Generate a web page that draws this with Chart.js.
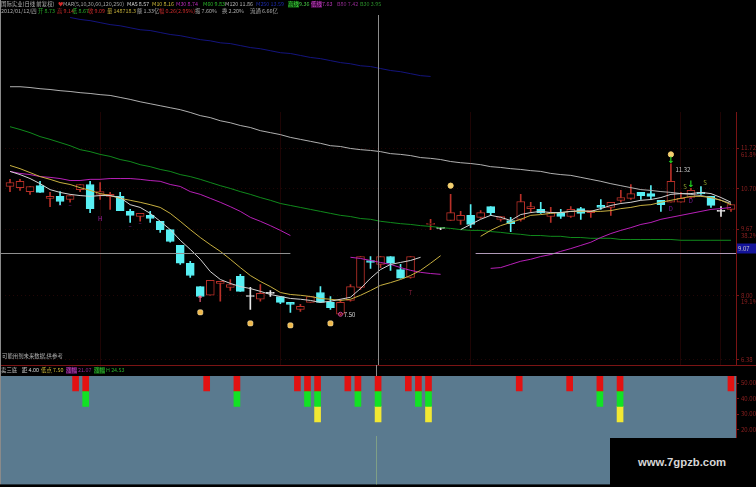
<!DOCTYPE html>
<html><head><meta charset="utf-8">
<style>
html,body{margin:0;padding:0;background:#000;width:756px;height:487px;overflow:hidden}
#top{position:absolute;left:0;top:0;width:756px;height:365px}
#bot{position:absolute;left:0;top:365px;width:756px;height:125px}
.t{position:absolute;white-space:nowrap;font:5.4px/7px "Noto Sans CJK SC","Noto Sans",sans-serif;z-index:3;opacity:.88}
#mark{position:absolute;left:610px;top:438px;width:146px;height:49px;background:#000;z-index:4}
#mark span{position:absolute;left:28px;top:18px;font:bold 11.3px "Liberation Sans",sans-serif;color:#d6d6d6;white-space:nowrap}
</style>
<script src="https://cdn.jsdelivr.net/npm/chart.js@4"></script>
</head><body>
<div id="top"><canvas id="c1" width="756" height="365"></canvas></div>
<div id="bot"><canvas id="c2" width="756" height="125"></canvas></div>
<div id="texts"></div>
<div id="mark"><span>www.7gpzb.com</span></div>
<script>
const openP=[10.75,10.72,10.62,10.77,10.45,10.50,10.42,10.67,10.80,10.55,10.50,10.50,10.12,9.99,10.02,9.87,9.66,9.26,8.81,8.22,8.00,8.30,8.20,8.48,7.97,7.90,8.05,7.97,7.82,7.64,7.82,8.07,7.82,7.52,7.87,8.20,8.88,8.78,8.98,8.65,8.45,null,9.79,9.69,9.89,9.89,10.02,9.97,10.24,9.92,9.89,9.92,10.19,10.17,9.99,10.09,9.99,10.19,10.09,10.27,10.22,10.40,10.45,10.60,10.57,10.40,10.35,10.35,10.47,10.60,10.50,10.12,10.17];
const closeP=[10.85,10.88,10.75,10.60,10.50,10.37,10.52,10.80,10.19,10.62,10.55,10.14,10.02,10.07,9.94,9.66,9.36,8.81,8.50,7.97,8.38,8.35,8.27,8.10,7.97,8.05,8.05,7.82,7.77,7.72,7.97,7.82,7.69,7.82,8.22,8.98,8.83,8.98,8.81,8.43,8.98,null,9.81,9.69,10.09,10.02,9.79,10.09,10.09,9.99,9.81,10.37,10.24,10.09,10.09,9.99,10.17,10.07,10.14,10.22,10.35,10.47,10.57,10.52,10.50,10.29,10.88,10.45,10.65,10.57,10.27,10.12,10.29];
const highP=[10.93,10.93,10.75,10.88,10.60,10.62,10.52,10.80,10.88,10.85,10.60,10.60,10.17,10.07,10.12,9.87,9.66,9.26,8.86,8.22,8.38,8.35,8.40,8.53,8.20,8.27,8.12,7.97,7.82,7.77,7.97,8.22,7.97,7.90,8.27,8.98,8.98,8.98,8.98,8.78,8.98,null,9.92,9.71,10.55,10.12,10.29,10.14,10.24,9.99,9.97,10.55,10.35,10.35,10.22,10.17,10.24,10.22,10.14,10.42,10.35,10.65,10.80,10.60,10.77,10.40,11.32,10.60,10.70,10.75,10.50,10.24,10.29];
const lowP=[10.62,10.65,10.55,10.60,10.24,10.29,10.35,10.62,10.09,10.42,10.17,10.14,9.84,9.87,9.84,9.59,9.34,8.78,8.45,7.95,8.00,7.85,8.12,8.10,7.64,7.85,7.97,7.79,7.57,7.59,7.82,7.82,7.64,7.50,7.85,8.15,8.68,8.70,8.63,8.43,8.43,null,9.66,9.66,9.89,9.79,9.71,9.94,10.02,9.87,9.61,9.87,10.09,10.07,9.84,9.94,9.97,9.92,9.97,10.17,10.02,10.35,10.42,10.42,10.42,10.12,10.35,10.35,10.45,10.55,10.22,9.99,10.12];
const ma5=[11.13,11.05,10.95,10.82,10.67,10.60,10.55,10.52,10.50,10.52,10.52,10.47,10.29,10.22,10.07,9.87,9.66,9.39,9.16,8.91,8.60,8.40,8.30,8.22,8.17,8.10,8.02,7.97,7.92,7.90,7.87,7.82,7.85,7.90,7.95,8.17,8.43,8.65,8.78,8.83,8.88,8.96,null,null,null,9.66,9.79,9.92,10.02,9.97,9.89,10.04,10.09,10.12,10.09,10.09,10.12,10.14,10.12,10.19,10.27,10.32,10.35,10.40,10.42,10.47,10.55,10.57,10.57,10.60,10.57,10.47,10.35];
const ma10=[11.28,11.20,11.10,11.00,10.93,10.85,10.80,10.72,10.65,10.57,10.52,10.45,10.40,10.35,10.29,10.22,10.07,9.87,9.66,9.46,9.28,9.11,8.91,8.70,8.50,8.35,8.22,8.07,8.02,8.00,7.97,7.92,7.90,7.87,7.90,8.00,8.12,8.25,8.32,8.40,8.50,8.63,8.81,9.00,null,null,null,9.49,9.64,9.76,9.84,9.92,10.02,10.04,10.07,10.09,10.12,10.12,10.12,10.12,10.14,10.19,10.22,10.27,10.29,10.35,10.40,10.45,10.50,10.50,10.47,10.40,10.29];
const ma30=[11.13,11.08,11.05,11.00,10.98,10.95,10.90,10.90,10.93,10.93,10.95,10.95,10.95,10.93,10.90,10.88,10.80,10.75,10.62,10.55,10.45,10.35,10.24,10.12,9.97,9.87,9.76,9.64,9.51,null,null,null,null,null,8.96,8.93,8.88,8.83,8.78,8.70,8.63,8.58,8.55,8.53,null,null,null,null,8.68,8.70,8.78,8.86,8.91,8.98,9.03,9.11,9.18,9.26,9.34,9.46,9.56,9.64,9.71,9.79,9.84,9.92,9.97,10.02,10.07,10.12,10.17,10.19,10.22];
const ma60=[12.26,12.19,12.11,12.01,11.94,11.86,11.78,11.68,11.63,11.56,11.51,11.43,11.38,11.30,11.25,11.18,11.13,11.05,11.00,10.93,10.85,10.77,10.70,10.62,10.55,10.47,10.40,10.32,10.27,10.22,10.17,10.12,10.07,10.02,9.99,9.94,9.92,9.87,9.84,9.81,9.79,9.76,9.74,9.71,9.69,9.66,9.64,9.64,9.61,9.59,9.56,9.54,9.51,9.51,9.49,9.49,9.46,9.46,9.44,9.44,9.44,9.41,9.41,9.41,9.41,9.41,9.41,9.39,9.39,9.39,9.39,9.39,9.39];
const ma120=[13.27,13.27,13.25,13.22,13.20,13.17,13.15,13.12,13.10,13.07,13.05,13.00,12.95,12.89,12.84,12.79,12.74,12.69,12.62,12.54,12.49,12.41,12.36,12.29,12.24,12.16,12.11,12.06,11.99,11.94,11.89,11.84,11.78,11.76,11.71,11.68,11.66,11.63,11.58,11.56,11.53,11.48,11.46,11.43,11.38,11.35,11.33,11.30,11.25,11.23,11.20,11.18,11.15,11.13,11.08,11.05,11.03,10.98,10.93,10.88,10.82,10.77,10.72,10.67,10.65,10.62,10.60,10.57,10.55,10.52,10.47,10.40,10.32];
const ma250=[null,null,null,null,null,null,15.02,14.97,14.94,14.89,14.84,14.81,14.76,14.71,14.69,14.64,14.59,14.56,14.51,14.46,14.43,14.38,14.36,14.31,14.26,14.23,14.18,14.13,14.11,14.06,14.01,13.98,13.93,13.88,13.85,13.80,13.78,13.73,13.68,13.65,13.60,13.55,13.53,null,null,null,null,null,null,null,null,null,null,null,null,null,null,null,null,null,null,null,null,null,null,null,null,null,null,null,null,null,null];
const handDays=[19,24,28,32], handPrices=[7.57,7.29,7.24,7.29];
const ballDays=[44,66], ballPrices=[10.77,11.56];
const priceTicks=[11.72,10.70,9.67,8.00,6.38];
const priceTickPct={11.72:"61.8%",9.67:"38.2%",8.00:"19.1%"};
const lastPrice=9.07;
const indicatorTicks=[50,40,30,20];
const redDays=[7,8,20,23,29,30,31,34,35,37,40,41,42,51,56,59,61,72];
const greenDays=[8,23,30,31,35,37,41,42,59,61];
const yellowDays=[31,37,42,61];
const gridDays=[9,27,46,67,71];
const markDays=[19,66,68,67,69,66,33,9,40,66,68,5,6,12,13];
const markPrices=[7.90,11.40,10.80,10.75,10.85,11.18,7.52,9.94,8.07,10.19,10.40,10.29,10.29,9.76,9.84];
const markTexts=["↑","↓","↓","S","S","11.32","7.50","H","T","D","D","–","–","–","–"];
const markColors=["#ff6a8a","#22dd22","#22dd22","#8f9f2c","#8f9f2c","#c8c8c8","#d8d8d8","#a024a8","#8a2040","#7a1a9a","#7a1a9a","#8a2098","#8a2098","#8a2098","#8a2098"];
const days=openP.map((_,i)=>String(i+1));

const header=[
 ["国际实业(日线 前复权)",1,4,"#c8c8c8"],["♥",58,4,"#f03030"],["MAR(5,10,30,60,120,250)",63,4,"#b8b8b8"],
 ["MA5 8.57",127,4,"#e8e8e8"],["M10 8.16",152,4,"#e8d040"],["M30 8.74",176,4,"#d030d0"],["M60 9.83",203,4,"#30d030"],
 ["M120 11.86",225,4,"#c8c8c8"],["M250 13.59",256,4,"#2030c0"],["高线",288,4,"#50ff50","#0a4a0a"],["9.36",299,4,"#50e050"],
 ["低线",311,4,"#e050e0","#4a0a4a"],["7.63",322,4,"#d040d0"],["B80 7.42",337,4,"#a030a0"],["B30 3.95",360,4,"#30a030"],
 ["2012/01/12/四",1,11.5,"#c0c0c0"],["开 8.73",38,11.5,"#30c030"],["高 9.14",57,11.5,"#e03030"],["低 8.67",72,11.5,"#30c030"],
 ["收 9.09",88,11.5,"#e03030"],["量 148718.3",107,11.5,"#d8c040"],["额 1.33亿",137,11.5,"#c0c0c0"],["幅 0.26(2.95%)",159,11.5,"#e03030"],
 ["振 7.60%",195,11.5,"#c0c0c0"],["换 2.20%",222,11.5,"#c0c0c0"],["流通 6.66亿",250,11.5,"#c0c0c0"],
 ["可能用到未来数据,供参考",2,356,"#c8c8c8"],
 ["卖三底",1,370,"#d8d8d8"],["距 4.00",22,370,"#e8e8e8"],["低点 7.50",41,370,"#e8d040"],
 ["涨幅",66,370,"#e060e0","#500a50"],["21.07",78,370,"#b030b0"],["涨幅",94,370,"#40e040","#0a4a0a"],["H 24.53",106,370,"#30c030"]
];
const box=document.getElementById('texts');
header.forEach(h=>{const s=document.createElement('span');s.className='t';s.textContent=h[0];s.style.left=h[1]+'px';s.style.top=(h[2]-3.5)+'px';s.style.color=h[3];if(h[4])s.style.background=h[4];box.appendChild(s);});

const FONT='"Noto Sans CJK SC","Noto Sans",sans-serif';
const RED='#b83028',CYAN='#58f0f4',WHITE='#e8e8e8',AXIS='#7a1414',TICK='#8c2020';
const candleColor=(o,c)=>o==null?'#000':(c>o?RED:(c<o?CYAN:WHITE));
const wick=days.map((_,i)=>lowP[i]==null?null:[lowP[i],highP[i]]);
const body=days.map((_,i)=>openP[i]==null?null:[openP[i],closeP[i]]);
const strokes=days.map((_,i)=>candleColor(openP[i],closeP[i]));
const fills=days.map((_,i)=>closeP[i]>openP[i]?'#000':strokes[i]);
const sparse=(idx,vals)=>days.map((_,i)=>{const k=idx.indexOf(i);return k<0?null:vals[k];});
const lineDs=(data,color,order)=>({type:'line',data,borderColor:color,borderWidth:1,pointRadius:0,tension:0,spanGaps:false,order,fill:false});
const crossX=x=>Math.floor(x.getPixelForValue(37))-1.5;

const priceDecor={id:'priceDecor',
 beforeDatasetsDraw(ch){
  const {ctx,scales:{x}}=ch;
  ctx.save();ctx.lineWidth=1;ctx.strokeStyle='#1e0404';
  gridDays.forEach(d=>{const g=Math.floor(x.getPixelForValue(d))+.5;ctx.beginPath();ctx.moveTo(g,112);ctx.lineTo(g,365);ctx.stroke();});
  ctx.restore();
 },
 afterDatasetsDraw(ch){
  const {ctx,chartArea:a,scales:{x,y}}=ch;
  ctx.save();
  const ly=Math.round(y.getPixelForValue(lastPrice))+.5;
  ctx.lineWidth=1;
  ctx.strokeStyle='#8f8f8f';ctx.beginPath();ctx.moveTo(1,ly);ctx.lineTo(x.getPixelForValue(28),ly);ctx.stroke();
  ctx.strokeStyle='#b09ab8';ctx.beginPath();ctx.moveTo(x.getPixelForValue(46)+5,ly);ctx.lineTo(a.right,ly);ctx.stroke();
  const cx=crossX(x);
  ctx.strokeStyle='#8c8c8c';ctx.beginPath();ctx.moveTo(cx,15);ctx.lineTo(cx,365);ctx.stroke();
  ctx.strokeStyle='#8a8a8a';ctx.beginPath();ctx.moveTo(.5,0);ctx.lineTo(.5,365);ctx.stroke();
  ctx.strokeStyle=AXIS;ctx.beginPath();ctx.moveTo(a.right+.5,112);ctx.lineTo(a.right+.5,365);ctx.stroke();
  ctx.textAlign='center';ctx.textBaseline='middle';
  markTexts.forEach((t,k)=>{
    const long=t.length>1;
    const px=x.getPixelForValue(markDays[k])+(long?(t==="7.50"?9:12):(t==="S"?4:0));
    const py=y.getPixelForValue(markPrices[k]);
    ctx.fillStyle=markColors[k];
    ctx.font=(t==="↑"||t==="↓")?'bold 9px "DejaVu Sans"':'6px '+FONT;
    ctx.fillText(t,px,py);
  });
  ctx.strokeStyle='#d040a0';ctx.beginPath();ctx.arc(x.getPixelForValue(33),y.getPixelForValue(7.52),2,0,7);ctx.stroke();
  ctx.textAlign='left';ctx.font='6px '+FONT;ctx.fillStyle=TICK;
  priceTicks.forEach(v=>{if(priceTickPct[v])ctx.fillText(priceTickPct[v],a.right+5,y.getPixelForValue(v)+6.5);});
  ctx.fillStyle='#14149a';ctx.fillRect(a.right+1,ly-10,19,10);
  ctx.fillStyle='#c8c8c8';ctx.fillText(lastPrice.toFixed(2),a.right+2,ly-5);
  ctx.restore();
 }};

new Chart(document.getElementById('c1'),{
 type:'bar',
 data:{labels:days,datasets:[
  lineDs(ma5,'#d2d2d2',1),lineDs(ma10,'#c8b040',2),lineDs(ma30,'#b820b8',3),
  lineDs(ma60,'#108a1c',4),lineDs(ma120,'#b0b0b0',5),lineDs(ma250,'#14147e',6),
  {type:'line',data:sparse(handDays,handPrices),showLine:false,pointStyle:'rectRounded',pointRadius:3,backgroundColor:'#efb84a',borderColor:'#fff0c0',borderWidth:.5,order:0},
  {type:'line',data:sparse(ballDays,ballPrices),showLine:false,pointStyle:'circle',pointRadius:2.6,backgroundColor:'#f4d070',borderColor:'#f4d070',order:0},
  {type:'bar',data:body,grouped:false,barThickness:8,minBarLength:1,backgroundColor:fills,borderColor:strokes,borderWidth:1,borderSkipped:false,order:10},
  {type:'bar',data:wick,grouped:false,barThickness:1,backgroundColor:strokes,order:11}
 ]},
 options:{responsive:false,animation:false,layout:{padding:0},
  plugins:{legend:{display:false},tooltip:{enabled:false}},
  scales:{
   x:{display:false,offset:true},
   y:{position:'right',min:6.38,max:15.32,
    border:{display:false,dash:[1,3]},
    grid:{color:'#220606',tickColor:AXIS,tickLength:3},
    afterBuildTicks(a){a.ticks=priceTicks.map(v=>({value:v}));},
    afterFit(a){a.width=20;},
    ticks:{padding:2,color:TICK,font:{size:6,family:FONT},callback:v=>Number(v).toFixed(2)}
   }}},
 plugins:[priceDecor]
});

const panel={id:'panel',
 beforeDatasetsDraw(ch){const {ctx,chartArea:a}=ch;ctx.save();ctx.fillStyle='#5a7a8f';ctx.fillRect(a.left+1,a.top,a.right-a.left-1,a.bottom-a.top);ctx.restore();},
 afterDatasetsDraw(ch){const {ctx,chartArea:a,scales:{x}}=ch;ctx.save();ctx.lineWidth=1;
  ctx.strokeStyle=AXIS;ctx.beginPath();ctx.moveTo(0,.5);ctx.lineTo(756,.5);ctx.stroke();
  const cx=crossX(x);
  ctx.strokeStyle='#7f9f86';ctx.beginPath();ctx.moveTo(cx,a.top+60);ctx.lineTo(cx,a.bottom);ctx.stroke();
  ctx.strokeStyle='#8c8c8c';ctx.beginPath();ctx.moveTo(cx,0);ctx.lineTo(cx,a.top);ctx.stroke();
  ctx.strokeStyle='#8a8a8a';ctx.beginPath();ctx.moveTo(.5,0);ctx.lineTo(.5,a.bottom);ctx.stroke();
  ctx.restore();}};
const signal=(idx,lo,hi)=>days.map((_,i)=>idx.includes(i)?[lo,hi]:null);
const sigDs=(data,color)=>({data,grouped:false,barThickness:6,backgroundColor:color});
new Chart(document.getElementById('c2'),{
 type:'bar',
 data:{labels:days,datasets:[
  sigDs(signal(redDays,45,54.5),'#e21212'),
  sigDs(signal(greenDays,35,45),'#12e224'),
  sigDs(signal(yellowDays,25,35),'#f2e832')
 ]},
 options:{responsive:false,animation:false,layout:{padding:{top:11,bottom:2}},
  plugins:{legend:{display:false},tooltip:{enabled:false}},
  scales:{
   x:{display:false,offset:true},
   y:{position:'right',min:-15,max:54.5,
    border:{display:true,color:AXIS},
    grid:{drawOnChartArea:false,tickColor:AXIS,tickLength:3},
    afterBuildTicks(a){a.ticks=indicatorTicks.map(v=>({value:v}));},
    afterFit(a){a.width=20;},
    ticks:{padding:2,color:TICK,font:{size:6,family:FONT},callback:v=>Number(v).toFixed(2)}
   }}},
 plugins:[panel]
});
</script></body></html>
